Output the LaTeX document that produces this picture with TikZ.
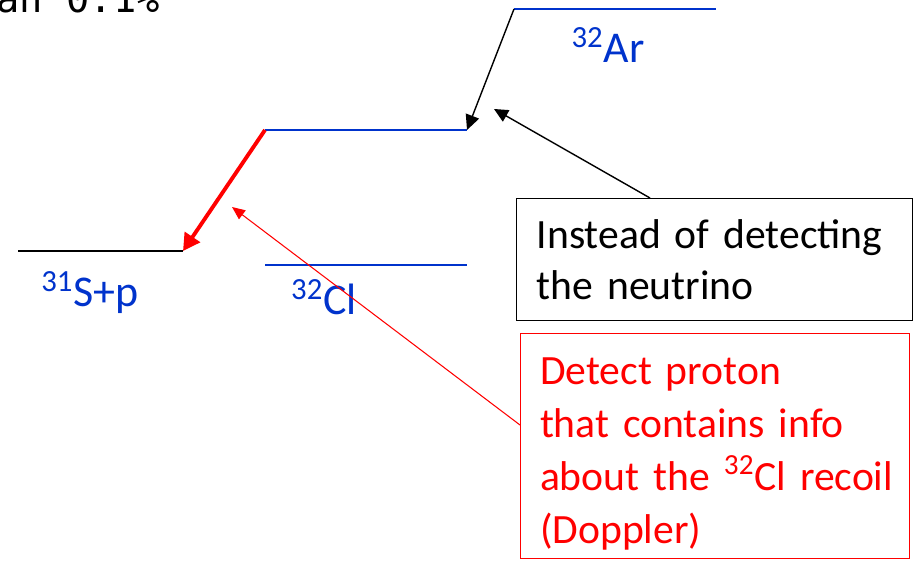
\documentclass[tikz,border=0pt]{standalone}
\usepackage{fontspec}
\setmainfont{Carlito}
\newfontfamily\monofont{DejaVu Sans Mono}
\usepackage{xcolor}
\usetikzlibrary{arrows.meta}
\definecolor{levelblue}{RGB}{0,51,204}
\tikzset{
  level/.style={
    draw=levelblue,
    line width=1.1pt
  },
  groundlevel/.style={
    draw=black,
    line width=1.1pt
  },
  levellabel/.style={
    anchor=base,
    text=levelblue,
    font=\fontsize{25}{30}\selectfont
  },
  decay/.style={
    line width=0.8pt,
    -{Triangle[length=0.3cm,width=0.28cm]}
  },
  pdecay/.style={
    draw=red,
    line width=2.2pt,
    -{Triangle[length=0.34cm,width=0.36cm]}
  },
  pointer/.style={
    line width=0.8pt,
    -{Triangle[length=0.28cm,width=0.26cm]}
  },
  redpointer/.style={
    draw=red,
    line width=0.6pt,
    -{Triangle[length=0.26cm,width=0.22cm]}
  },
  notebox/.style={
    draw,
    line width=0.8pt,
    align=left,
    text width=7.12cm,
    inner xsep=0.4cm,
    minimum height=2.44cm,
    font=\fontsize{23.7}{29}\selectfont
  },
  protonbox/.style={
    draw=red,
    text=red,
    line width=0.6pt,
    align=left,
    text width=7cm,
    inner xsep=0.39cm,
    minimum height=4.5cm,
    font=\fontsize{23.7}{30}\selectfont
  }
}
\begin{document}
\begin{tikzpicture}
  \useasboundingbox (0,0) rectangle (18.34,11.2);
  % left over from the slide title
  \node[anchor=base east, inner sep=0pt, font=\monofont\fontsize{22}{26}\selectfont] (title) at (3.2,10.94) {an 0.1\%};
  % levels
  \coordinate (sp1) at (0.36,6.18);
  \coordinate (sp2) at (3.66,6.18);
  \coordinate (ex1) at (5.30,8.60);
  \coordinate (ex2) at (9.34,8.60);
  \coordinate (ar1) at (10.28,11.02);
  \coordinate (ar2) at (14.32,11.02);
  \coordinate (cl1) at (5.30,5.90);
  \coordinate (cl2) at (9.34,5.90);
  \draw[groundlevel] (sp1)--(sp2);
  \draw[level] (ex1)--(ex2);
  \draw[level] (ar1)--(ar2);
  \draw[level] (cl1)--(cl2);
  \node[levellabel] (splabel) at (1.80,5.06) {\textsuperscript{31}S+p};
  \node[levellabel] (cllabel) at (6.48,4.90) {\textsuperscript{32}Cl};
  \node[levellabel] (arlabel) at (12.16,9.94) {\textsuperscript{32}Ar};
  % transitions
  \draw[decay] (ar1)--(ex2);
  \draw[pdecay] (ex1)--(sp2);
  % notes
  \node[notebox, anchor=north west] (nu) at (10.32,7.24) {Instead of detecting\\the neutrino};
  \node[protonbox, anchor=north west] (pbox) at (10.40,4.54) {\rule{0pt}{0.85cm}Detect proton\\that contains info\\\mbox{about the \textsuperscript{32}Cl recoil}\\(Doppler)};
  \coordinate (nutip) at (9.88,9.02);
  \coordinate (ptip) at (4.64,7.06);
  \draw[pointer] ([xshift=2.68cm]nu.north west)--(nutip);
  \draw[redpointer] ([yshift=-1.84cm]pbox.north west)--(ptip);
\end{tikzpicture}
\end{document}
